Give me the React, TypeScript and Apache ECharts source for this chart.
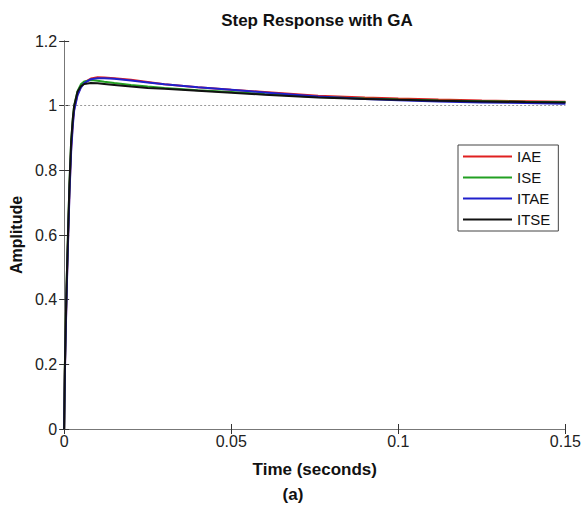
import React, { useEffect, useRef } from "react";
import * as echarts from "echarts";

const times = [0, 0.0002, 0.0005, 0.0008, 0.0012, 0.0016, 0.0021, 0.0026, 0.003, 0.004, 0.005, 0.006, 0.008, 0.01, 0.012, 0.015, 0.02, 0.025, 0.03, 0.04, 0.05, 0.06, 0.076, 0.09, 0.1, 0.112, 0.125, 0.138, 0.15];
const iae = [0, 0.17, 0.32, 0.45, 0.6, 0.74, 0.87, 0.95, 0.99, 1.035, 1.058, 1.072, 1.084, 1.088, 1.087, 1.085, 1.08, 1.073, 1.066, 1.057, 1.049, 1.042, 1.031, 1.025, 1.022, 1.019, 1.016, 1.014, 1.012];
const ise = [0, 0.18, 0.34, 0.47, 0.62, 0.76, 0.89, 0.96, 1.0, 1.045, 1.066, 1.075, 1.079, 1.077, 1.074, 1.07, 1.064, 1.059, 1.055, 1.048, 1.042, 1.036, 1.027, 1.022, 1.019, 1.016, 1.014, 1.012, 1.011];
const itae = [0, 0.16, 0.31, 0.44, 0.59, 0.73, 0.86, 0.94, 0.985, 1.032, 1.056, 1.07, 1.082, 1.085, 1.085, 1.083, 1.078, 1.072, 1.066, 1.057, 1.049, 1.041, 1.028, 1.021, 1.017, 1.013, 1.01, 1.008, 1.006];
const itse = [0, 0.18, 0.34, 0.47, 0.62, 0.76, 0.89, 0.96, 1.0, 1.043, 1.06, 1.067, 1.07, 1.069, 1.067, 1.064, 1.059, 1.055, 1.052, 1.046, 1.04, 1.034, 1.025, 1.021, 1.018, 1.015, 1.013, 1.011, 1.01];
const seriesNames = ["IAE", "ISE", "ITAE", "ITSE"];
const seriesColors = ["#e02020", "#22a022", "#2020cc", "#111111"];
const referenceLevel = 1;

const FONT = "'Liberation Sans', Arial, sans-serif";

export default function App() {
  const ref = useRef<HTMLDivElement>(null);
  useEffect(() => {
    if (!ref.current) return;
    const chart = echarts.init(ref.current, undefined, { renderer: "svg" });
    const all = [iae, ise, itae, itse];
    const series: any[] = all.map((vals, i) => ({
      name: seriesNames[i],
      type: "line",
      data: times.map((t, k) => [t, vals[k]]),
      showSymbol: false,
      symbol: "none",
      lineStyle: { color: seriesColors[i], width: 2 },
      itemStyle: { color: seriesColors[i] },
      z: 3 + i,
      ...(i === 0
        ? {
            markLine: {
              silent: true,
              symbol: ["none", "none"],
              label: { show: false },
              lineStyle: { type: [2, 2], color: "#999", width: 1 },
              data: [{ yAxis: referenceLevel }],
            },
          }
        : {}),
    }));
    const tickCommon = { show: true, inside: true, length: 5, lineStyle: { color: "#333" } };
    chart.setOption({
      animation: false,
      textStyle: { fontFamily: FONT },
      title: {
        text: "Step Response with GA",
        left: 312,
        top: 7,
        textAlign: "center",
        textStyle: { fontFamily: FONT, fontSize: 17, fontWeight: "bold", color: "#111" },
      },
      grid: { left: 58, right: 16, top: 41, bottom: 77, containLabel: false },
      legend: {
        orient: "vertical",
        left: 458,
        top: 145,
        data: seriesNames,
        icon: "rect",
        itemWidth: 49,
        itemHeight: 2,
        itemGap: 4,
        padding: [3, 8, 3, 5],
        backgroundColor: "#fff",
        borderColor: "#444",
        borderWidth: 1,
        borderRadius: 0,
        textStyle: { fontFamily: FONT, fontSize: 15, color: "#111", lineHeight: 17 },
      },
      xAxis: [
        {
          type: "value",
          min: 0,
          max: 0.15,
          interval: 0.05,
          name: "Time (seconds)",
          nameLocation: "middle",
          nameGap: 32,
          nameTextStyle: { fontFamily: FONT, fontSize: 17, fontWeight: "bold", color: "#111" },
          axisLine: { show: true, lineStyle: { color: "#222", width: 1 } },
          axisTick: tickCommon,
          axisLabel: { fontFamily: FONT, fontSize: 16, color: "#222", margin: 4 },
          splitLine: { show: false },
        },
        {
          type: "value",
          position: "top",
          min: 0,
          max: 0.15,
          interval: 0.05,
          axisLine: { show: true, lineStyle: { color: "#777", width: 1 } },
          axisTick: tickCommon,
          axisLabel: { show: false },
          splitLine: { show: false },
        },
      ],
      yAxis: [
        {
          type: "value",
          min: 0,
          max: 1.2,
          interval: 0.2,
          name: "Amplitude",
          nameLocation: "middle",
          nameGap: 33,
          nameTextStyle: { fontFamily: FONT, fontSize: 16, fontWeight: "bold", color: "#111" },
          axisLine: { show: true, lineStyle: { color: "#222", width: 1 } },
          axisTick: tickCommon,
          axisLabel: { fontFamily: FONT, fontSize: 16, color: "#222", margin: 7 },
          splitLine: { show: false },
        },
        {
          type: "value",
          position: "right",
          min: 0,
          max: 1.2,
          interval: 0.2,
          axisLine: { show: true, lineStyle: { color: "#777", width: 1 } },
          axisTick: tickCommon,
          axisLabel: { show: false },
          splitLine: { show: false },
        },
      ],
      graphic: [
        {
          type: "text",
          x: 293,
          y: 494,
          style: {
            text: "(a)",
            fontFamily: FONT,
            fontSize: 17,
            fontWeight: "bold",
            fill: "#111",
            textAlign: "center",
            textVerticalAlign: "middle",
          },
        },
      ],
      series,
    });
    return () => chart.dispose();
  }, []);
  return (
    <div
      ref={ref}
      style={{ position: "fixed", left: 0, top: 0, width: 584, height: 506, background: "#fff" }}
    />
  );
}
